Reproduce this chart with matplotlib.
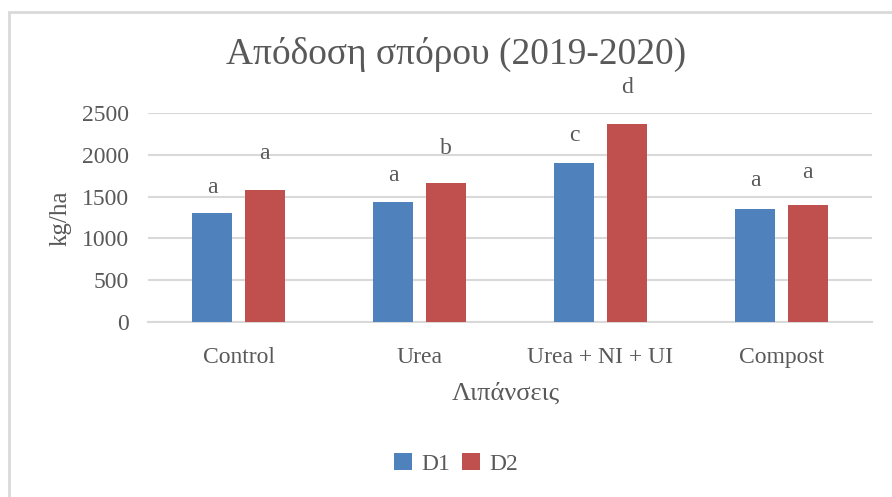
import matplotlib
matplotlib.use("Agg")
import matplotlib.pyplot as plt
from matplotlib.patches import Rectangle
import numpy as np

categories = ["Control", "Urea", "Urea + NI + UI", "Compost"]
d1 = [1300, 1432, 1905, 1355]
d2 = [1575, 1660, 2368, 1400]
d1_letters = ["a", "a", "c", "a"]
d2_letters = ["a", "b", "d", "a"]
yticks = [0, 500, 1000, 1500, 2000, 2500]

TXT = "#595959"
GRID = "#d9d9d9"
BLUE = "#4F81BD"
RED = "#C0504D"
FONT = "Liberation Serif"

plt.rcParams["font.family"] = [FONT, "DejaVu Serif"]

W, H = 892, 497
fig = plt.figure(figsize=(W / 100, H / 100), dpi=100)

def fx(px):
    return px / W

def fy(py):
    return 1 - py / H

# outer chart frame (left and top edges visible)
fig.add_artist(Rectangle((fx(9), fy(H + 20)), fx(W + 20), fy(12) - fy(H + 20),
                         transform=fig.transFigure, fill=False,
                         edgecolor=GRID, linewidth=2))

ax = fig.add_axes([fx(148), fy(322), fx(872 - 148), fy(113) - fy(322)])

x = np.arange(len(categories))
w = 0.22
off = 0.145
b1 = ax.bar(x - off, d1, width=w, color=BLUE, label="D1", zorder=3)
b2 = ax.bar(x + off, d2, width=w, color=RED, label="D2", zorder=3)

# significance letters above the bars (offsets in pixels)
d1_dy = [26, 27, 27, 28]
d2_dy = [37, 35, 37, 32]
for xi, v, s, dy in zip(x - off, d1, d1_letters, d1_dy):
    ax.annotate(s, (xi, v), xytext=(0, dy * 0.72), textcoords="offset points",
                ha="center", va="center", fontsize=17, color=TXT)
for xi, v, s, dy in zip(x + off, d2, d2_letters, d2_dy):
    ax.annotate(s, (xi, v), xytext=(0, dy * 0.72), textcoords="offset points",
                ha="center", va="center", fontsize=17, color=TXT)

ax.set_xlim(-0.5, len(categories) - 0.5)
ax.set_ylim(0, 2500)
ax.set_yticks(yticks)
ax.set_yticklabels([str(t) for t in yticks], fontsize=17, color=TXT)
ax.set_xticks(x)
ax.set_xticklabels(categories, fontsize=17, color=TXT)
ax.tick_params(axis="both", length=0)
ax.tick_params(axis="y", pad=14)
ax.tick_params(axis="x", pad=18)
ax.yaxis.grid(True, color=GRID, linewidth=1.5, zorder=0)
ax.set_axisbelow(True)
for sp in ["top", "right", "left"]:
    ax.spines[sp].set_visible(False)
ax.spines["bottom"].set_color(GRID)
ax.spines["bottom"].set_linewidth(1.5)

ax.set_ylabel("kg/ha", fontsize=18, color=TXT, va="center")
ax.yaxis.set_label_coords(-(148 - 61) / (872 - 148), (322 - 218) / (322 - 113))
ax.set_xlabel("Λιπάνσεις", fontsize=19, color=TXT, va="center")
ax.xaxis.set_label_coords((506 - 148) / 724, -(393 - 322) / (322 - 113))

fig.text(fx(456), fy(54), "Απόδοση σπόρου (2019-2020)", ha="center", va="center",
         fontsize=27, color=TXT)

leg = fig.legend(handles=[b1, b2], labels=["D1", "D2"], loc="center",
                 bbox_to_anchor=(fx(456), fy(464)), ncol=2, frameon=False,
                 fontsize=17, handlelength=0.75, handleheight=0.75,
                 handletextpad=0.4, columnspacing=0.5, labelcolor=TXT)

fig.savefig("out.png", dpi=100, facecolor="white")
